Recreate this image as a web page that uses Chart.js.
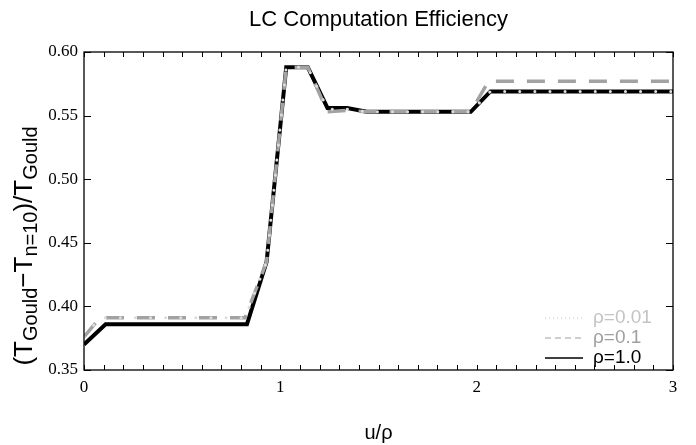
<!DOCTYPE html>
<html>
<head>
<meta charset="utf-8">
<script src="https://cdn.jsdelivr.net/npm/chart.js@4.4.1/dist/chart.umd.min.js"></script>
<style>
  html, body { margin: 0; padding: 0; background: #fff; }
</style>
</head>
<body>
<canvas id="chart" width="696" height="445"></canvas>
<script>
// u/rho positions and efficiency values per series
const rho001X = [0, 0.08, 0.82, 0.93, 1.03, 1.14, 1.24, 1.34, 1.44, 1.97, 2.07, 3];
const rho001Y = [0.376, 0.391, 0.391, 0.435, 0.588, 0.588, 0.555, 0.555, 0.553, 0.553, 0.569, 0.569];

const rho01X = [0, 0.08, 0.82, 0.93, 1.03, 1.14, 1.24, 1.34, 1.44, 1.97, 2.06, 3];
const rho01Y = [0.376, 0.391, 0.391, 0.435, 0.588, 0.588, 0.553, 0.554, 0.553, 0.553, 0.577, 0.577];

const rho1X = [0, 0.11, 0.83, 0.93, 1.03, 1.14, 1.24, 1.34, 1.44, 1.97, 2.07, 3];
const rho1Y = [0.370, 0.386, 0.386, 0.435, 0.588, 0.588, 0.556, 0.556, 0.553, 0.553, 0.569, 0.569];

const xLabels = [0, 1, 2, 3];
const yLabels = [0.35, 0.40, 0.45, 0.50, 0.55, 0.60];
const legendNames = ['ρ=0.01', 'ρ=0.1', 'ρ=1.0'];

const toPoints = (xs, ys) => xs.map((x, i) => ({ x: x, y: ys[i] }));

const SANS = '"Liberation Sans", Arial, sans-serif';
const SERIF = '"Liberation Serif", "Times New Roman", serif';

// text pieces: [string, isSubscript]
function drawRich(ctx, parts, size, subSize) {
    let total = 0;
    parts.forEach(p => {
        ctx.font = (p[1] ? subSize : size) + 'px ' + SANS;
        total += ctx.measureText(p[0]).width;
    });
    let x = -total / 2;
    parts.forEach(p => {
        ctx.font = (p[1] ? subSize : size) + 'px ' + SANS;
        ctx.fillText(p[0], x, p[1] ? size * 0.2 : 0);
        x += ctx.measureText(p[0]).width;
    });
}

const decorations = {
    id: 'decorations',
    afterDraw(chart) {
        const ctx = chart.ctx;
        const a = chart.chartArea;
        const xs = chart.scales.x;
        const ys = chart.scales.y;
        ctx.save();

        // title
        ctx.fillStyle = '#000';
        ctx.textAlign = 'center';
        ctx.textBaseline = 'alphabetic';
        ctx.font = '22px ' + SANS;
        ctx.fillText('LC Computation Efficiency', (a.left + a.right) / 2, 26);

        // x title
        ctx.font = '20px ' + SANS;
        ctx.fillText('u/ρ', (a.left + a.right) / 2, 439);

        // y title with subscripts
        ctx.save();
        ctx.translate(32, 246);
        ctx.rotate(-Math.PI / 2);
        ctx.textAlign = 'left';
        drawRich(ctx, [['(T', false], ['Gould', true], ['−T', false], ['n=10', true], [')/T', false], ['Gould', true]], 26, 20);
        ctx.restore();

        // frame
        ctx.strokeStyle = '#000';
        ctx.lineWidth = 1.3;
        ctx.strokeRect(a.left, a.top, a.right - a.left, a.bottom - a.top);

        // inward ticks
        ctx.lineWidth = 1;
        ctx.beginPath();
        for (let i = 0; i <= 30; i++) {
            const px = Math.round(xs.getPixelForValue(i / 10)) + 0.5;
            ctx.moveTo(px, a.bottom); ctx.lineTo(px, a.bottom - 5);
            ctx.moveTo(px, a.top); ctx.lineTo(px, a.top + 5);
        }
        yLabels.forEach(v => {
            const py = Math.round(ys.getPixelForValue(v)) + 0.5;
            ctx.moveTo(a.left, py); ctx.lineTo(a.left + 7, py);
            ctx.moveTo(a.right, py); ctx.lineTo(a.right - 7, py);
        });
        ctx.stroke();

        // legend
        const rows = [318, 338, 358];
        const styles = [
            { color: '#c8c8c8', text: '#c4c4c4', dash: [1, 3], w: 1.2 },
            { color: '#a0a0a0', text: '#a0a0a0', dash: [6, 4], w: 1.2 },
            { color: '#000', text: '#000', dash: [], w: 1.6 }
        ];
        ctx.font = '19px ' + SANS;
        ctx.textAlign = 'left';
        ctx.textBaseline = 'alphabetic';
        styles.forEach((s, i) => {
            ctx.beginPath();
            ctx.setLineDash(s.dash);
            ctx.strokeStyle = s.color;
            ctx.lineWidth = s.w;
            ctx.moveTo(545, rows[i]);
            ctx.lineTo(583, rows[i]);
            ctx.stroke();
            ctx.fillStyle = s.text;
            ctx.fillText(legendNames[i], 593, rows[i] + 5);
        });
        ctx.restore();
    }
};

new Chart(document.getElementById('chart').getContext('2d'), {
    type: 'line',
    data: {
        datasets: [
            {
                label: legendNames[0],
                data: toPoints(rho001X, rho001Y),
                borderColor: '#dcdcdc',
                borderWidth: 3,
                borderDash: [0.1, 15],
                borderCapStyle: 'round',
                pointRadius: 0,
                order: 1
            },
            {
                label: legendNames[1],
                data: toPoints(rho01X, rho01Y),
                borderColor: '#a2a2a2',
                borderWidth: 3.5,
                borderDash: [18, 13],
                pointRadius: 0,
                order: 2
            },
            {
                label: legendNames[2],
                data: toPoints(rho1X, rho1Y),
                borderColor: '#000',
                borderWidth: 4,
                pointRadius: 0,
                order: 3
            }
        ]
    },
    options: {
        responsive: false,
        animation: false,
        layout: { padding: { top: 52, right: 23, left: 0, bottom: 0 } },
        plugins: {
            legend: { display: false },
            title: { display: false },
            tooltip: { enabled: false }
        },
        scales: {
            x: {
                type: 'linear',
                min: 0,
                max: 3,
                afterFit: s => { s.height = 75; },
                afterBuildTicks: s => { s.ticks = xLabels.map(v => ({ value: v })); },
                grid: { display: false, drawTicks: false },
                border: { display: false },
                ticks: {
                    padding: 7,
                    color: '#000',
                    font: { family: SERIF, size: 17 },
                    callback: v => String(v)
                }
            },
            y: {
                min: 0.35,
                max: 0.60,
                afterFit: s => { s.width = 84; },
                afterBuildTicks: s => { s.ticks = yLabels.map(v => ({ value: v })); },
                grid: { display: false, drawTicks: false },
                border: { display: false },
                ticks: {
                    padding: 6,
                    color: '#000',
                    font: { family: SERIF, size: 17 },
                    callback: v => v.toFixed(2)
                }
            }
        }
    },
    plugins: [decorations]
});
</script>
</body>
</html>
